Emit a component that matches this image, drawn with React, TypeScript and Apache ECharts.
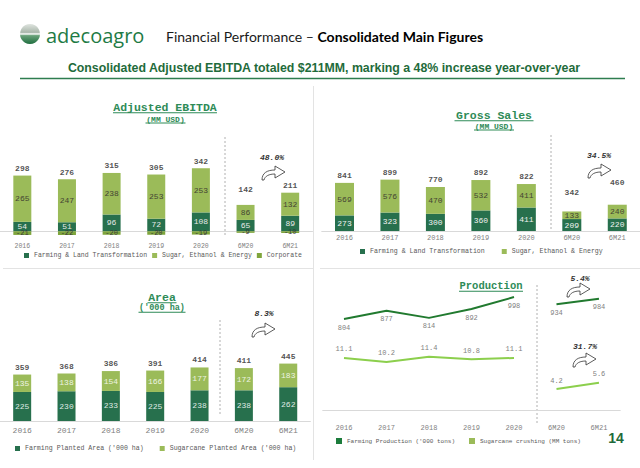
import React, { useEffect, useRef } from "react";
import * as echarts from "echarts";

const years = ["2016", "2017", "2018", "2019", "2020", "6M20", "6M21"];

const ebitdaFarming = [54, 51, 96, 72, 108, 65, 89];
const ebitdaSugar = [265, 247, 238, 253, 253, 86, 132];
const ebitdaCorporate = [-21, -22, -20, -20, -19, -9, -10];
const ebitdaTotal = [298, 276, 315, 305, 342, 142, 211];

const salesFarming = [273, 323, 300, 360, 411, 209, 220];
const salesSugar = [569, 576, 470, 532, 411, 133, 240];
const salesTotal = [841, 899, 770, 892, 822, 342, 460];

const areaFarming = [225, 230, 233, 225, 238, 238, 262];
const areaSugar = [135, 138, 154, 166, 177, 172, 183];
const areaTotal = [359, 368, 386, 391, 414, 411, 445];

const prodFarmingFY = [804, 877, 814, 892, 998];
const prodFarming6M = [934, 984];
const prodSugarFY = [11.1, 10.2, 11.4, 10.8, 11.1];
const prodSugar6M = [4.2, 5.6];

const growthEbitda = "48.0%";
const growthSales = "34.5%";
const growthArea = "8.3%";
const growthFarmingProd = "5.4%";
const growthSugarProd = "31.7%";

const DARK = "#27704d";
const LIGHT = "#9bbb59";
const CORP = "#7fa53c";
const TITLE_GREEN = "#2e8b57";
const MONO = '"Liberation Mono", "Courier New", monospace';

const catAxis = (gridIndex: number, fontSize: number, margin: number) => ({
  type: "category",
  gridIndex,
  data: years,
  axisLine: { show: true, onZero: true, lineStyle: { color: "#d9d9d9", width: 1 } },
  axisTick: { show: false },
  axisLabel: { fontSize, fontFamily: MONO, color: "#7f7f7f", margin },
  splitLine: { show: false },
});

const valAxis = (gridIndex: number, min: number, max: number) => ({
  type: "value",
  gridIndex,
  min,
  max,
  show: false,
});

const inLabel = (color: string, fontSize: number) => ({
  show: true,
  position: "inside",
  color,
  fontSize,
  fontFamily: MONO,
});

const totalsSeries = (
  name: string,
  idx: number,
  tops: number[],
  totals: number[],
  dist: (i: number) => number
) => ({
  type: "scatter",
  name,
  xAxisIndex: idx,
  yAxisIndex: idx,
  symbolSize: 0,
  silent: true,
  data: tops.map((v, i) => ({ value: [i, v], label: { distance: dist(i) } })),
  label: {
    show: true,
    position: "top",
    formatter: (p: any) => String(totals[p.dataIndex]),
    fontSize: 8,
    fontWeight: "bold",
    fontFamily: MONO,
    color: "#262626",
  },
});

const legendBase = (left: number, top: number, data: string[], itemGap: number, fontSize: number, size: number) => ({
  left,
  top,
  data,
  icon: "rect",
  itemWidth: size,
  itemHeight: size,
  itemGap,
  padding: 0,
  textStyle: { fontSize, fontFamily: MONO, color: "#595959" },
});

const title = (text: string, x: number, y: number, size: number, underW: number) => [
  {
    type: "text",
    x,
    y,
    style: {
      text,
      fill: TITLE_GREEN,
      font: `bold ${size}px ${MONO}`,
      align: "center",
      verticalAlign: "middle",
    },
  },
  {
    type: "line",
    shape: { x1: x - underW / 2, y1: y + size * 0.5, x2: x + underW / 2, y2: y + size * 0.5 },
    style: { stroke: TITLE_GREEN, lineWidth: 1 },
  },
];

const dashed = (x: number, y1: number, y2: number) => ({
  type: "line",
  shape: { x1: x, y1, x2: x, y2 },
  style: { stroke: "#b0b0b0", lineWidth: 1, lineDash: [2, 2] },
});

const arrow = (x: number, y: number) => ({
  type: "curvedArrow",
  x,
  y,
  scaleX: 1,
  scaleY: 1,
  style: { fill: "#ffffff", stroke: "#333333", lineWidth: 0.8 },
});

const pct = (text: string, x: number, y: number) => ({
  type: "text",
  x,
  y,
  style: {
    text,
    fill: "#333333",
    font: `italic bold 8px ${MONO}`,
    align: "center",
    verticalAlign: "middle",
  },
});

function buildOption() {
  const ebitdaTops = ebitdaFarming.map((v, i) => v + ebitdaSugar[i]);
  const salesTops = salesFarming.map((v, i) => v + salesSugar[i]);
  const areaTops = areaFarming.map((v, i) => v + areaSugar[i]);
  const nulls = (n: number) => Array.from({ length: n }, () => null);

  const farmingProdName = "Farming Production ('000 tons)";
  const sugarProdName = "Sugarcane crushing (MM tons)";

  const prodLabel = (pos: string) => ({
    show: true,
    position: pos,
    distance: 5,
    fontSize: 7,
    fontFamily: MONO,
    color: "#7f7f7f",
  });

  return {
    animation: false,
    backgroundColor: "#ffffff",
    grid: [
      { left: -2.5, top: 130, width: 315, height: 110 },
      { left: 321.75, top: 131, width: 325.5, height: 100 },
      { left: -5.6, top: 321, width: 316, height: 100 },
      { left: 322.75, top: 280, width: 297.5, height: 142 },
    ],
    xAxis: [catAxis(0, 6.5, 3), catAxis(1, 7, 3.5), catAxis(2, 8, 5.5), catAxis(3, 7, 2.5)],
    yAxis: [
      valAxis(0, -50, 580),
      valAxis(1, 0, 1750),
      valAxis(2, 0, 775),
      valAxis(3, -107, 1149),
      valAxis(3, -3.1, 28.4),
    ],
    legend: [
      legendBase(24, 252, ["Farming & Land Transformation", "Sugar, Ethanol & Energy", "Corporate"], 5, 6.5, 5),
      legendBase(360, 248, ["Farming & Land Transformation", "Sugar, Ethanol & Energy"], 17, 6.6, 5),
      legendBase(15, 445, ["Farming Planted Area ('000 ha)", "Sugarcane Planted Area ('000 ha)"], 16, 6.6, 5),
      legendBase(336, 438, [farmingProdName, sugarProdName], 14, 6, 6),
    ],
    series: [
      {
        type: "bar", name: "Farming & Land Transformation", xAxisIndex: 0, yAxisIndex: 0, stack: "e",
        barWidth: 18, data: ebitdaFarming, itemStyle: { color: DARK }, label: inLabel("#e8e8e8", 8),
      },
      {
        type: "bar", name: "Sugar, Ethanol & Energy", xAxisIndex: 0, yAxisIndex: 0, stack: "e",
        barWidth: 18, data: ebitdaSugar, itemStyle: { color: LIGHT }, label: inLabel("#444433", 8),
      },
      {
        type: "bar", name: "Corporate", xAxisIndex: 0, yAxisIndex: 0, stack: "e",
        barWidth: 18, data: ebitdaCorporate, itemStyle: { color: CORP }, label: inLabel("#3a3a3a", 7),
      },
      totalsSeries("EBITDA total", 0, ebitdaTops, ebitdaTotal, (i) => (i === 5 ? 11 : 3)),
      {
        type: "bar", name: "Farming & Land Transformation", xAxisIndex: 1, yAxisIndex: 1, stack: "s",
        barWidth: 19, data: salesFarming, itemStyle: { color: DARK }, label: inLabel("#f0f0f0", 8),
      },
      {
        type: "bar", name: "Sugar, Ethanol & Energy", xAxisIndex: 1, yAxisIndex: 1, stack: "s",
        barWidth: 19, data: salesSugar, itemStyle: { color: LIGHT }, label: inLabel("#444433", 8),
      },
      totalsSeries("Sales total", 1, salesTops, salesTotal, (i) => (i === 5 ? 15 : i === 6 ? 18 : 3.5)),
      {
        type: "bar", name: "Farming Planted Area ('000 ha)", xAxisIndex: 2, yAxisIndex: 2, stack: "a",
        barWidth: 18, data: areaFarming, itemStyle: { color: DARK }, label: inLabel("#dfe8e2", 8),
      },
      {
        type: "bar", name: "Sugarcane Planted Area ('000 ha)", xAxisIndex: 2, yAxisIndex: 2, stack: "a",
        barWidth: 18, data: areaSugar, itemStyle: { color: LIGHT }, label: inLabel("#eef3e2", 8),
      },
      totalsSeries("Area total", 2, areaTops, areaTotal, () => 3.5),
      {
        type: "line", name: farmingProdName, xAxisIndex: 3, yAxisIndex: 3,
        data: [...prodFarmingFY, ...nulls(2)], symbol: "circle", symbolSize: 0.1, showSymbol: true,
        itemStyle: { color: "#1c7c3c" }, lineStyle: { color: "#217a2f", width: 2 }, label: prodLabel("bottom"),
      },
      {
        type: "line", name: farmingProdName, xAxisIndex: 3, yAxisIndex: 3,
        data: [...nulls(5), ...prodFarming6M], symbol: "circle", symbolSize: 0.1, showSymbol: true,
        itemStyle: { color: "#1c7c3c" }, lineStyle: { color: "#217a2f", width: 2 }, label: prodLabel("bottom"),
      },
      {
        type: "line", name: sugarProdName, xAxisIndex: 3, yAxisIndex: 4,
        data: [...prodSugarFY, ...nulls(2)], symbol: "circle", symbolSize: 0.1, showSymbol: true,
        itemStyle: { color: LIGHT }, lineStyle: { color: "#8ccf4d", width: 2 }, label: prodLabel("top"),
      },
      {
        type: "line", name: sugarProdName, xAxisIndex: 3, yAxisIndex: 4,
        data: [...nulls(5), ...prodSugar6M], symbol: "circle", symbolSize: 0.1, showSymbol: true,
        itemStyle: { color: LIGHT }, lineStyle: { color: "#8ccf4d", width: 2 }, label: prodLabel("top"),
      },
    ],
    graphic: {
      elements: [
        {
          type: "circle",
          shape: { cx: 30, cy: 34, r: 10 },
          style: {
            fill: new echarts.graphic.LinearGradient(0, 0, 0, 1, [
              { offset: 0, color: "#dfe4df" },
              { offset: 0.42, color: "#a9b7ab" },
              { offset: 0.5, color: "#ffffff" },
              { offset: 0.58, color: "#6aa27a" },
              { offset: 1, color: "#1f6e3f" },
            ]),
          },
        },
        {
          type: "text",
          x: 46,
          y: 35,
          style: { text: "adecoagro", fill: "#1e7b45", font: '20px "Open Sans"', verticalAlign: "middle" },
        },
        {
          type: "text",
          x: 166,
          y: 36,
          style: {
            text: "{a|Financial Performance – }{b|Consolidated Main Figures}",
            verticalAlign: "middle",
            rich: {
              a: { fontFamily: "Lato", fontSize: 14, fill: "#1a1a1a" },
              b: { fontFamily: "Lato", fontSize: 14, fontWeight: "bold", fill: "#000000" },
            },
          },
        },
        {
          type: "text",
          x: 324,
          y: 68,
          scaleX: 0.95,
          style: {
            text: "Consolidated Adjusted EBITDA totaled $211MM, marking a 48% increase year-over-year",
            fill: "#1f6b3b",
            font: 'bold 13px "Liberation Sans"',
            align: "center",
            verticalAlign: "middle",
          },
        },
        { type: "line", shape: { x1: 20, y1: 78.5, x2: 625, y2: 78.5 }, style: { stroke: "#2e7d4f", lineWidth: 1.5 } },
        { type: "line", shape: { x1: 313.5, y1: 86, x2: 313.5, y2: 460 }, style: { stroke: "#e3e3e3", lineWidth: 1 } },
        { type: "line", shape: { x1: 3, y1: 268.5, x2: 313, y2: 268.5 }, style: { stroke: "#e3e3e3", lineWidth: 1 } },
        { type: "line", shape: { x1: 320, y1: 268.5, x2: 640, y2: 268.5 }, style: { stroke: "#e3e3e3", lineWidth: 1 } },
        ...title("Adjusted EBITDA", 165, 107, 11.5, 104),
        ...title("(MM USD)", 165.5, 119, 8, 40),
        ...title("Gross Sales", 494, 115, 11.5, 79),
        ...title("(MM USD)", 494, 126, 8, 40),
        ...title("Area", 162, 297, 11.5, 29),
        ...title("('000 ha)", 162, 308, 8.5, 47),
        ...title("Production", 491, 286, 10.5, 64),
        dashed(225, 137, 235),
        dashed(551, 135, 231),
        dashed(220, 320, 415),
        dashed(537, 285, 425),
        pct(growthEbitda, 272, 157),
        arrow(262, 166),
        pct(growthSales, 599, 155),
        arrow(588, 164),
        pct(growthArea, 264, 313),
        arrow(252, 323),
        pct(growthFarmingProd, 580, 278),
        arrow(567, 283),
        pct(growthSugarProd, 585, 346),
        arrow(573, 353),
        {
          type: "text",
          x: 616,
          y: 438,
          style: {
            text: "14",
            fill: "#1f6b3b",
            font: 'bold 14px "Liberation Sans"',
            align: "center",
            verticalAlign: "middle",
          },
        },
      ],
    },
  };
}

let registered = false;

export default function App() {
  const ref = useRef<HTMLDivElement>(null);
  useEffect(() => {
    if (!ref.current) return;
    if (!registered) {
      echarts.graphic.registerShape(
        "curvedArrow",
        echarts.graphic.extendPath("M0,14 C0,7 5,4 13,4 L13,0 L23,6 L13,12 L13,8 C7,8 3,10 2,14 Z", {})
      );
      registered = true;
    }
    const chart = echarts.init(ref.current, null, { renderer: "svg" });
    chart.setOption(buildOption() as any);
    return () => chart.dispose();
  }, []);
  return (
    <div
      ref={ref}
      style={{ position: "fixed", left: 0, top: 0, width: 640, height: 468, background: "#ffffff" }}
    />
  );
}
